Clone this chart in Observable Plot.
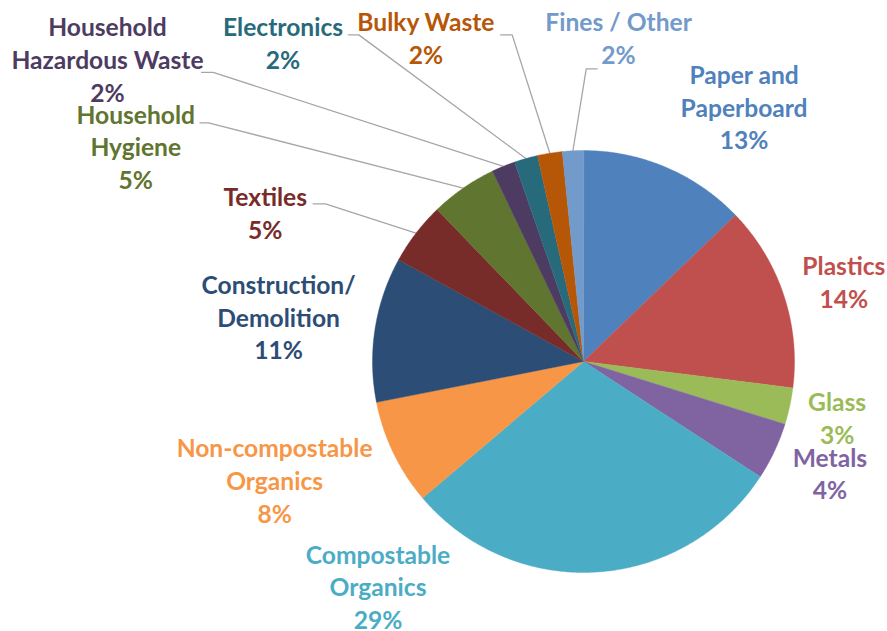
<!DOCTYPE html>
<html>
<head>
<meta charset="utf-8">
<script src="https://cdn.jsdelivr.net/npm/d3@7"></script>
<script src="https://cdn.jsdelivr.net/npm/@observablehq/plot@0.6"></script>
<style>
  body { margin: 0; background: #fff; }
  #chart svg { display: block; }
  g[aria-label="pie shadow"] { filter: drop-shadow(0px 1px 4px rgba(0,0,0,0.45)); }
</style>
</head>
<body>
<div id="chart"></div>
<script>
// ---- data ----
const categories = [
  "Paper and Paperboard", "Plastics", "Glass", "Metals", "Compostable Organics",
  "Non-compostable Organics", "Construction/ Demolition", "Textiles", "Household Hygiene",
  "Household Hazardous Waste", "Electronics", "Bulky Waste", "Fines / Other"
];
const labelLines = [
  "Paper and\nPaperboard", "Plastics", "Glass", "Metals", "Compostable\nOrganics",
  "Non-compostable\nOrganics", "Construction/\nDemolition", "Textiles", "Household\nHygiene",
  "Household\nHazardous Waste", "Electronics", "Bulky Waste", "Fines / Other"
];
const shares = [12.8, 14.2, 2.8, 4.4, 29.6, 8.1, 11.1, 4.8, 5.1, 1.8, 1.8, 1.9, 1.6];
const shareLabels = ["13%", "14%", "3%", "4%", "29%", "8%", "11%", "5%", "5%", "2%", "2%", "2%", "2%"];
const colors = [
  "#4F81BD", "#C0504D", "#9BBB59", "#8064A2", "#4BACC6", "#F79646", "#2C4D75",
  "#772C2A", "#5F7530", "#4D3B62", "#276A7C", "#B65708", "#729ACA"
];

// ---- layout (pie units: radius = 1, centre = 0,0) ----
const W = 887, H = 631, cx = 583, cy = 361, R = 211;
const labelPos = [
  [0.761, 1.201], [1.234, 0.372], [1.202, -0.274], [1.168, -0.536], [-0.974, -1.073],
  [-1.464, -0.568], [-1.445, 0.206], [-1.508, 0.700], [-2.122, 1.012],
  [-2.256, 1.427], [-1.424, 1.506], [-0.747, 1.527], [0.166, 1.527]
];
// leader line start + elbow for labels that have one (index -> points)
const leaderElbows = {
  7: [[-1.281, 0.747], [-1.223, 0.747]],
  8: [[-1.818, 1.131], [-1.777, 1.131]],
  9: [[-1.810, 1.370], [-1.755, 1.370]],
  10: [[-1.115, 1.548], [-1.065, 1.548]],
  11: [[-0.393, 1.548], [-0.338, 1.548]],
  12: [[0.065, 1.387], [0.013, 1.387]]
};

// ---- build slice geometry ----
const total = d3.sum(shares);
const slices = [];
const shadowRing = [];
let acc = 0;
categories.forEach((name, i) => {
  const a0 = acc / total * 2 * Math.PI;
  acc += shares[i];
  const a1 = acc / total * 2 * Math.PI;
  const n = Math.max(2, Math.ceil((a1 - a0) / (Math.PI / 360)));
  slices.push({name, x: 0, y: 0, k: -1});
  for (let j = 0; j <= n; j++) {
    const a = a0 + (a1 - a0) * j / n;
    slices.push({name, x: Math.sin(a), y: Math.cos(a), k: j});
  }
});
for (let j = 0; j <= 720; j++) {
  const a = j / 720 * 2 * Math.PI;
  shadowRing.push({x: Math.sin(a), y: Math.cos(a)});
}

const labels = categories.map((name, i) => ({
  name, text: labelLines[i] + "\n" + shareLabels[i], x: labelPos[i][0], y: labelPos[i][1]
}));

const leaders = [];
acc = 0;
const mids = shares.map(s => { const m = (acc + s / 2) / total * 2 * Math.PI; acc += s; return m; });
Object.entries(leaderElbows).forEach(([i, pts]) => {
  const name = categories[+i];
  pts.forEach(p => leaders.push({name, x: p[0], y: p[1]}));
  leaders.push({name, x: Math.sin(mids[+i]) * 1.0, y: Math.cos(mids[+i]) * 1.0});
});

const chart = Plot.plot({
  width: W,
  height: H,
  margin: 0,
  style: {background: "#fff"},
  x: {domain: [-cx / R, (W - cx) / R], axis: null},
  y: {domain: [-(H - cy) / R, cy / R], axis: null},
  color: {domain: categories, range: colors},
  marks: [
    Plot.line(leaders, {x: "x", y: "y", z: "name", stroke: "#A6A6A6", strokeWidth: 1.3}),
    Plot.line(shadowRing, {x: "x", y: "y", fill: "#fff", stroke: "none", curve: "linear-closed", ariaLabel: "pie shadow"}),
    Plot.line(slices, {x: "x", y: "y", z: "name", fill: "name", stroke: "name", strokeWidth: 0.4, curve: "linear-closed"}),
    Plot.text(labels, {
      x: "x", y: "y", text: "text", fill: "name", dy: -2,
      fontSize: 24.6, fontWeight: "bold", fontFamily: "Lato", lineHeight: 1.33, textAnchor: "middle"
    })
  ]
});
document.getElementById("chart").appendChild(chart);
</script>
</body>
</html>
